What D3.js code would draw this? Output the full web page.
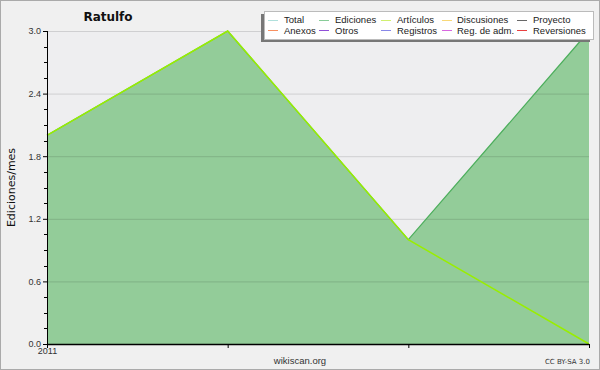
<!DOCTYPE html>
<html>
<head>
<meta charset="utf-8">
<script src="https://cdn.jsdelivr.net/npm/d3@7"></script>
<style>
  body { margin: 0; background: #fff; }
  svg { display: block; font-family: "DejaVu Sans", sans-serif; }
</style>
</head>
<body>
<svg id="chart" width="600" height="370"></svg>
<script>
// data
const months = ['2011-01', '2011-02', '2011-03', '2011-04'];
const tickLabels = ['2011', '', '', ''];
const edits = [2, 3, 1, 3];
const articles = [2, 3, 1, 0];
const yTicks = [0, 0.6, 1.2, 1.8, 2.4, 3.0];

const legendNames = [
  ['Total', 'Ediciones', 'Artículos', 'Discusiones', 'Proyecto'],
  ['Anexos', 'Otros', 'Registros', 'Reg. de adm.', 'Reversiones']
];
const legendColors = [
  ['#b0e0dc', '#88cc98', '#d0f070', '#f8d878', '#686868'],
  ['#f89060', '#9050d8', '#8888e8', '#d868e0', '#e84040']
];

const width = 600, height = 370;
const margin = { top: 31, right: 11, bottom: 26, left: 47 };

const svg = d3.select('#chart');

// outer background + border
svg.append('rect')
  .attr('x', 0.5).attr('y', 0.5)
  .attr('width', width - 1).attr('height', height - 1)
  .attr('fill', '#f0f0f0')
  .attr('stroke', '#aaaaaa');

const x = d3.scalePoint()
  .domain(months)
  .range([margin.left, width - margin.right]);

const y = d3.scaleLinear()
  .domain([0, 3])
  .range([height - margin.bottom, margin.top]);

// plot background
svg.append('rect')
  .attr('x', margin.left).attr('y', margin.top)
  .attr('width', width - margin.right - margin.left)
  .attr('height', height - margin.bottom - margin.top)
  .attr('fill', '#eeeef0');

// edits area
const area = d3.area()
  .x((d, i) => x(months[i]))
  .y0(y(0))
  .y1(d => y(d));

svg.append('path')
  .datum(edits)
  .attr('d', area)
  .attr('fill', '#93cc99');

// gridlines
svg.append('g')
  .selectAll('line')
  .data(yTicks.filter(d => d > 0))
  .join('line')
    .attr('x1', margin.left)
    .attr('x2', width - margin.right)
    .attr('y1', d => y(d) + 0.5)
    .attr('y2', d => y(d) + 0.5)
    .attr('stroke', 'rgba(0,0,0,0.13)')
    .attr('stroke-width', 1);

const line = d3.line()
  .x((d, i) => x(months[i]))
  .y(d => y(d));

svg.append('path')
  .datum(edits)
  .attr('d', line)
  .attr('fill', 'none')
  .attr('stroke', '#4cae5c')
  .attr('stroke-width', 1.2);

svg.append('path')
  .datum(articles)
  .attr('d', line)
  .attr('fill', 'none')
  .attr('stroke', '#99ee00')
  .attr('stroke-width', 1.5);

// y axis
const yAxis = svg.append('g')
  .attr('transform', `translate(${margin.left},0)`)
  .call(d3.axisLeft(y).tickValues(yTicks).tickFormat(d3.format('.1f')).tickSize(4).tickPadding(2));
yAxis.select('.domain').attr('stroke', '#000').attr('d', `M0.5,${y(3)}V${y(0)}`);
yAxis.selectAll('.tick line').attr('stroke', '#000');
yAxis.selectAll('.tick text')
  .attr('fill', '#333')
  .style('font-size', '9px');

// minor ticks
svg.append('g')
  .selectAll('line')
  .data(d3.range(0, 3.01, 0.15).filter(v => Math.abs(v / 0.6 - Math.round(v / 0.6)) > 0.01))
  .join('line')
    .attr('x1', margin.left - 3)
    .attr('x2', margin.left)
    .attr('y1', d => Math.round(y(d)) + 0.5)
    .attr('y2', d => Math.round(y(d)) + 0.5)
    .attr('stroke', '#000');

// x axis
const xAxis = svg.append('g')
  .attr('transform', `translate(0,${y(0)})`)
  .call(d3.axisBottom(x).tickFormat((d, i) => tickLabels[i]).tickSize(4).tickPadding(0));
xAxis.select('.domain').attr('stroke', '#000').attr('stroke-width', 1.5)
  .attr('d', `M${margin.left},0.5H${width - margin.right}`);
xAxis.selectAll('.tick line').attr('stroke', '#000');
xAxis.selectAll('.tick text')
  .attr('fill', '#333')
  .style('font-size', '9px');

// title
svg.append('text')
  .attr('x', 108).attr('y', 21)
  .attr('text-anchor', 'middle')
  .style('font-size', '12px')
  .style('font-weight', 'bold')
  .attr('fill', '#111')
  .text('Ratulfo');

// y label
svg.append('text')
  .attr('transform', `translate(15,${(y(0) + y(3)) / 2}) rotate(-90)`)
  .attr('text-anchor', 'middle')
  .style('font-size', '11px')
  .attr('fill', '#111')
  .text('Ediciones/mes');

svg.append('text')
  .attr('x', 300).attr('y', 364)
  .attr('text-anchor', 'middle')
  .style('font-family', '"Liberation Sans", sans-serif')
  .style('font-size', '9.5px')
  .attr('fill', '#333')
  .text('wikiscan.org');

svg.append('text')
  .attr('x', 590).attr('y', 364)
  .attr('text-anchor', 'end')
  .style('font-size', '7px')
  .attr('fill', '#333')
  .text('CC BY-SA 3.0');

// legend
const legend = svg.append('g');
legend.append('rect')
  .attr('x', 261).attr('y', 14)
  .attr('width', 329).attr('height', 28)
  .attr('fill', '#777');
legend.append('rect')
  .attr('x', 264.5).attr('y', 11.5)
  .attr('width', 329).attr('height', 28)
  .attr('fill', '#fff')
  .attr('stroke', '#bbb');

const colX = [268, 319, 381, 442, 517];
const colText = [284, 335, 397, 457, 533];
legendNames.forEach((row, r) => {
  row.forEach((name, c) => {
    const ly = 19.5 + r * 10.5;
    legend.append('line')
      .attr('x1', colX[c]).attr('x2', colX[c] + 10)
      .attr('y1', Math.round(ly) + 0.5).attr('y2', Math.round(ly) + 0.5)
      .attr('stroke', legendColors[r][c]);
    legend.append('text')
      .attr('x', colText[c]).attr('y', ly + 3.5)
      .style('font-family', '"Liberation Sans", sans-serif')
      .style('font-size', '9.5px')
      .attr('fill', '#222')
      .text(name);
  });
});
</script>
</body>
</html>
